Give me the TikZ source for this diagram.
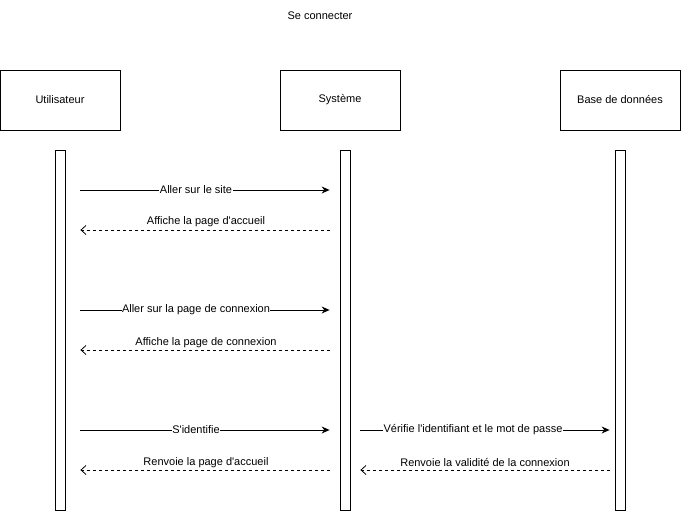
\documentclass[tikz,border=0pt]{standalone}
\usepackage{fontspec}
\setmainfont{Liberation Sans}
\usetikzlibrary{arrows.meta,calc}
\begin{document}
\begin{tikzpicture}[x=1pt,y=-1pt,
  actor/.style={draw,line width=0.8pt,minimum width=120pt,minimum height=60pt,inner sep=0pt,font=\fontsize{11}{13}\selectfont},
  bar/.style={draw,line width=0.8pt,fill=white,minimum width=10pt,minimum height=360pt,inner sep=0pt},
  msg/.style={line width=0.8pt,-{Stealth[length=8pt,width=7pt]}},
  reply/.style={line width=0.8pt,dash pattern=on 3pt off 3pt,-{Straight Barb[length=5pt,width=9pt]}},
  lbl/.style={fill=white,inner sep=0.5pt,font=\fontsize{11}{13}\selectfont},
  lblup/.style={inner sep=0pt,font=\fontsize{11}{13}\selectfont}]
\useasboundingbox (0,0) rectangle (681,511);
\node[lblup] (title) at (320,16) {Se connecter};
\node[actor] (ua) at (60,100) {Utilisateur};
\node[actor] (sa) at (340,100) {Système};
\node[actor] (da) at (620,100) {Base de données};
\node[bar] (ub) at (60,330) {};
\node[bar] (sb) at (345,330) {};
\node[bar] (db) at (620,330) {};
% messages
\coordinate (u1) at ($(ub.east |- 0,190)+(15,0)$);
\coordinate (s1) at ($(sb.west |- 0,190)+(-10,0)$);
\draw[msg] (u1) -- (s1);
\node[lbl] at (196,190) {Aller sur le site};
\coordinate (u2) at ($(ub.east |- 0,230)+(15,0)$);
\coordinate (s2) at ($(sb.west |- 0,230)+(-10,0)$);
\draw[reply] (s2) -- (u2);
\node[lblup] at (206,221.5) {Affiche la page d\textquotesingle accueil};
\coordinate (u3) at ($(ub.east |- 0,310)+(15,0)$);
\coordinate (s3) at ($(sb.west |- 0,310)+(-10,0)$);
\draw[msg] (u3) -- (s3);
\node[lbl] at (196,310) {Aller sur la page de connexion};
\coordinate (u4) at ($(ub.east |- 0,350)+(15,0)$);
\coordinate (s4) at ($(sb.west |- 0,350)+(-10,0)$);
\draw[reply] (s4) -- (u4);
\node[lblup] at (206,343) {Affiche la page de connexion};
\coordinate (u5) at ($(ub.east |- 0,430)+(15,0)$);
\coordinate (s5) at ($(sb.west |- 0,430)+(-10,0)$);
\draw[msg] (u5) -- (s5);
\node[lbl] at (196,430) {S\textquotesingle identifie};
\coordinate (s6) at ($(sb.east |- 0,430)+(10,0)$);
\coordinate (d6) at ($(db.west |- 0,430)+(-5,0)$);
\draw[msg] (s6) -- (d6);
\node[lbl] at (473,430) {Vérifie l\textquotesingle identifiant et le mot de passe};
\coordinate (u7) at ($(ub.east |- 0,470)+(15,0)$);
\coordinate (s7) at ($(sb.west |- 0,470)+(-10,0)$);
\draw[reply] (s7) -- (u7);
\node[lblup] at (206,463) {Renvoie la page d\textquotesingle accueil};
\coordinate (s8) at ($(sb.east |- 0,470)+(10,0)$);
\coordinate (d8) at ($(db.west |- 0,470)+(-5,0)$);
\draw[reply] (d8) -- (s8);
\node[lblup] at (485,463) {Renvoie la validité de la connexion};
\end{tikzpicture}
\end{document}
